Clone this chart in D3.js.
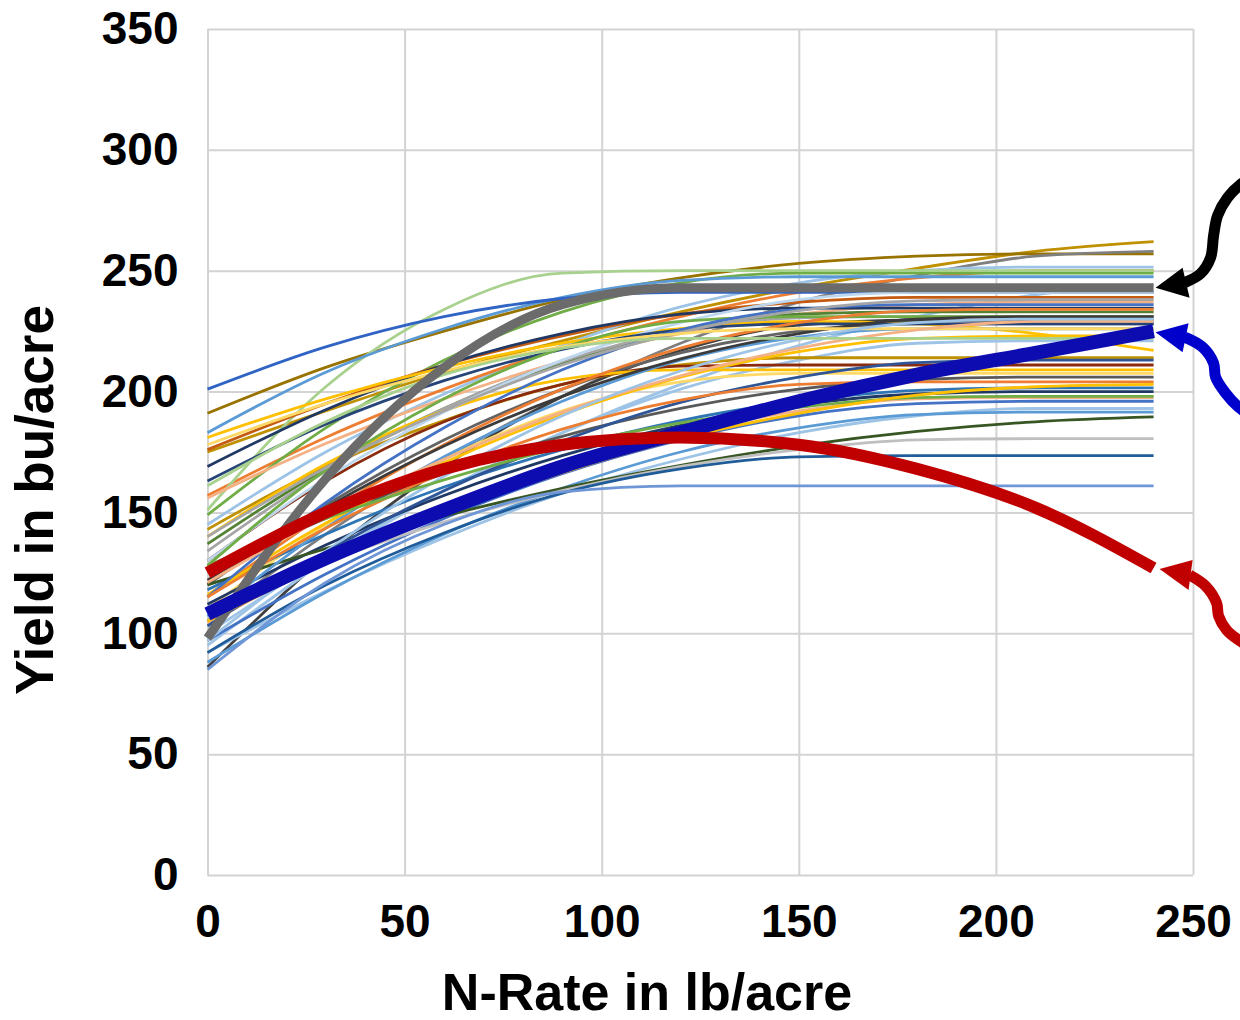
<!DOCTYPE html>
<html>
<head>
<meta charset="utf-8">
<script src="https://cdn.jsdelivr.net/npm/d3@7"></script>
<style>
  body { margin: 0; background: #fff; }
  svg { display: block; font-family: "Liberation Sans", Arial, sans-serif; }
</style>
</head>
<body>
<div id="chart"></div>
<script>
var nRates = [0, 30, 60, 90, 120, 150, 180, 210, 240];

var xTicks = [0, 50, 100, 150, 200, 250];
var yTicks = [0, 50, 100, 150, 200, 250, 300, 350];

// thin site curves (colour + yields at nRates)
var siteColors = [
  "#BF9000", "#997300", "#7F7F7F", "#9DC3E6", "#ED7D31", "#70AD47", "#A9D18E", "#5B9BD5",
  "#2F63C4", "#9DC3E6", "#C55A11", "#F4B183", "#203864", "#548235", "#A5A5A5", "#404040",
  "#636363", "#9DC3E6", "#FFC000", "#BF9000", "#8B2B0E", "#FFC000", "#FFD966", "#595959",
  "#2E75B6", "#1F3864", "#F4B183", "#4472C4", "#9DC3E6", "#5B9BD5", "#375623", "#BFBFBF",
  "#1F5C99", "#6F96D6", "#BDD7EE", "#264478", "#70AD47", "#5B9BD5", "#ED7D31", "#FFC000",
  "#3B3B3B", "#4472C4", "#A5A5A5", "#FFD966", "#F4B183", "#9DC3E6", "#2F5597", "#ED7D31",
  "#70AD47", "#A9D18E", "#FFC000"
];
var siteYields = [
  [175, 192, 208, 221, 233, 243, 251, 258, 262],
  [191, 210, 225, 238, 247, 253, 256, 257, 257],
  [105, 141, 172, 198, 220, 237, 248, 256, 258],
  [145, 175, 199, 219, 235, 245, 250, 251.5, 251.5],
  [157, 181, 201, 218, 231, 241, 247, 250, 250],
  [149, 185, 213, 233, 245, 249, 249, 249, 249],
  [151, 202, 234, 249, 250, 250, 250, 250, 250],
  [183, 208, 226, 239, 246, 247.5, 247.5, 247.5, 247.5],
  [201, 218.5, 231, 238.5, 241, 241, 241, 241, 241],
  [100, 131.5, 159, 183, 203, 219, 231, 240, 244],
  [176, 195, 211, 223, 232, 237, 239, 239, 239],
  [156, 178.5, 197, 212.5, 224, 232, 236, 237, 237],
  [169, 192.5, 211, 224, 232, 234.5, 234.5, 234.5, 234.5],
  [137, 168, 193, 212, 225, 232, 233, 233, 233],
  [134, 167, 193, 212.5, 225, 230.5, 231, 231, 231],
  [86, 132, 169, 198, 217, 227.5, 229.5, 229.5, 229.5],
  [120, 153, 180, 201, 216, 225, 228, 228, 228],
  [95, 130, 159, 183, 201, 213, 220, 221, 221],
  [181, 197, 210, 220, 226, 229, 228, 224, 217],
  [143, 169, 188, 203, 211, 214, 214, 214, 214],
  [130, 163, 187.5, 203, 210.5, 211, 211, 211, 211],
  [140, 170, 192, 205, 209, 209, 209, 209, 209],
  [110, 145, 172, 192, 204, 207.5, 207.5, 207.5, 207.5],
  [125, 147.5, 166, 181.5, 193, 201, 205, 206, 206],
  [118, 141, 160.5, 176, 188, 196, 200.5, 201.5, 201.5],
  [112, 136.5, 157, 173.5, 186, 194.5, 199, 200, 200],
  [104, 130, 152, 169.5, 182.5, 192, 197, 197.5, 197.5],
  [97, 124.5, 147.5, 166, 180, 190, 195, 196, 196],
  [92, 117.5, 139.5, 158, 172, 183, 190, 193, 193],
  [88, 117, 141, 160, 175, 185, 190.5, 191.5, 191.5],
  [120, 135, 148.5, 160, 169.5, 177.5, 183.5, 187.5, 189.5],
  [110, 129.5, 146, 159, 169, 176, 180, 180.5, 180.5],
  [92, 120, 141.5, 158, 168, 173, 173.5, 173.5, 173.5],
  [85, 121, 145, 158.5, 161, 161, 161, 161, 161],
  [130, 164, 191.5, 213, 228.5, 238, 241, 241, 241],
  [163, 186.5, 204.5, 217.5, 225.5, 228, 228, 228, 228],
  [128, 167.5, 197, 218, 229, 231, 231, 231, 231],
  [107, 143.5, 173, 196, 213, 222.5, 226, 226, 226],
  [115, 149.5, 178, 201, 218, 228.5, 233.5, 234, 234],
  [116, 145.5, 170.5, 190.5, 206, 216.5, 222, 223, 223],
  [122, 152, 177.5, 198, 213.5, 224, 230, 231, 231],
  [115, 154, 185, 209, 225.5, 234, 236, 236, 236],
  [140, 168.5, 192, 211, 224.5, 233.5, 237.5, 238, 238],
  [178, 195, 208.5, 218.5, 224, 226, 226, 226, 226],
  [121, 148.5, 172, 191.5, 206.5, 218, 225.5, 229, 229],
  [97, 134, 165, 190, 208.5, 221.5, 228.5, 230, 230],
  [103, 133.5, 159, 179.5, 195.5, 206, 212, 213, 213],
  [115, 143.5, 166.5, 184.5, 196.5, 203, 204, 204, 204],
  [128, 147.5, 163.5, 177, 187, 193.5, 197.5, 198, 198],
  [161, 187.5, 207, 218, 222, 222, 222, 222, 222],
  [105, 129, 149.5, 166.5, 180.5, 191, 198.5, 202, 203]
];

// highlighted curves
var grayYields = [98, 164, 210, 236, 243, 243, 243, 243, 243];
var blueYields = [108, 131, 151, 169, 183, 196, 207, 216, 225];
var redYields  = [125, 150, 168, 178, 181, 178, 168, 152, 127];

var W = 1240, H = 1020;
var svg = d3.select("#chart").append("svg")
    .attr("width", W)
    .attr("height", H);
svg.append("rect").attr("width", W).attr("height", H).attr("fill", "#fff");

var x = d3.scaleLinear().domain([0, 250]).range([207.5, 1193]);
var y = d3.scaleLinear().domain([0, 350]).range([875, 29]);

var gridColor = "#D3D3D3";

// y grid + labels
var yAxis = svg.append("g")
    .attr("transform", "translate(" + x(0) + ",0)")
    .call(d3.axisLeft(y).tickValues(yTicks).tickSize(-(x(250) - x(0))).tickPadding(29).tickFormat(d3.format("d")));
// x grid + labels
var xAxis = svg.append("g")
    .attr("transform", "translate(0," + y(0) + ")")
    .call(d3.axisBottom(x).tickValues(xTicks).tickSize(-(y(0) - y(350))).tickPadding(29).tickFormat(d3.format("d")));

[yAxis, xAxis].forEach(function (g) {
  g.select(".domain").remove();
  g.selectAll("line").attr("stroke", gridColor).attr("stroke-width", 2);
  g.selectAll("text")
      .attr("fill", "#000")
      .style("font-size", "46px")
      .style("font-weight", "bold")
      .style("font-family", "'Liberation Sans', Arial, sans-serif");
});

var line = d3.line()
    .x(function (d, i) { return x(nRates[i]); })
    .y(function (d) { return y(d); })
    .curve(d3.curveMonotoneX);

svg.append("g").selectAll("path")
    .data(siteYields)
    .enter().append("path")
    .attr("d", line)
    .attr("fill", "none")
    .attr("stroke", function (d, i) { return siteColors[i]; })
    .attr("stroke-width", 2.8);

svg.append("path").attr("d", line(grayYields))
    .attr("fill", "none").attr("stroke", "#6B6B6B").attr("stroke-width", 9);
svg.append("path").attr("d", line(blueYields))
    .attr("fill", "none").attr("stroke", "#0C0CB0").attr("stroke-width", 14);
svg.append("path").attr("d", line(redYields))
    .attr("fill", "none").attr("stroke", "#C00000").attr("stroke-width", 12);

// curly arrows pointing at the ends of the highlighted curves
var lastN = nRates[nRates.length - 1];
var arrows = [
  { color: "#000000", end: grayYields[8], dx: 2, dy: 0,
    head: [[27, -20], [34, 10]],
    shaft: [[29, -5], [45, -14], [55, -30], [58, -52], [62, -72], [72, -90], [86, -104], [102, -114]] },
  { color: "#0000CC", end: blueYields[8], dx: 2, dy: 1,
    head: [[33, -9], [27, 20]],
    shaft: [[29, 5], [47, 15], [58, 31], [60, 45], [70, 61], [83, 75], [99, 86]] },
  { color: "#C00000", end: redYields[8], dx: 6, dy: 1,
    head: [[33, -9], [29, 21]],
    shaft: [[30, 6], [46, 17], [57, 34], [59, 47], [67, 61], [79, 71], [95, 80]] }
];
var rel = d3.line().curve(d3.curveCatmullRom.alpha(0.5));
arrows.forEach(function (a) {
  var g = svg.append("g")
      .attr("transform", "translate(" + (x(lastN) + a.dx) + "," + (y(a.end) + a.dy) + ")");
  g.append("path").attr("d", rel(a.shaft))
      .attr("fill", "none").attr("stroke", a.color).attr("stroke-width", 11);
  g.append("path").attr("d", "M0,0L" + a.head[0].join(",") + "L" + a.head[1].join(",") + "Z")
      .attr("fill", a.color);
});

// axis titles
svg.append("text")
    .attr("x", 647).attr("y", 1010)
    .attr("text-anchor", "middle")
    .style("font-size", "52px").style("font-weight", "bold")
    .text("N-Rate in lb/acre");
svg.append("text")
    .attr("transform", "translate(53,500) rotate(-90)")
    .attr("text-anchor", "middle")
    .style("font-size", "53px").style("font-weight", "bold")
    .text("Yield in bu/acre");
</script>
</body>
</html>
